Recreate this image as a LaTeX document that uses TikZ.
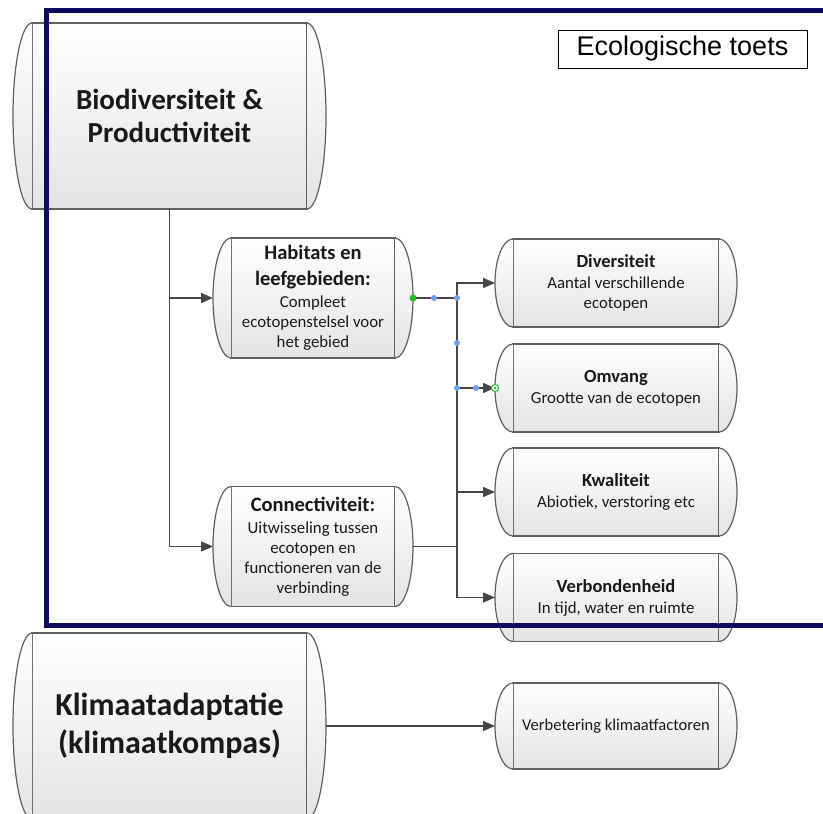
\documentclass[tikz,border=0pt]{standalone}
\usepackage{fontspec}
\setmainfont{Carlito}
\newfontfamily\arialfont{Liberation Sans}
\usetikzlibrary{arrows.meta,positioning,calc}
\definecolor{framenavy}{RGB}{12,12,96}
\definecolor{boxline}{RGB}{95,95,95}
\definecolor{boxbot}{RGB}{228,228,228}
\definecolor{connline}{RGB}{70,70,70}
\definecolor{handleblue}{RGB}{110,160,240}
\definecolor{handlegreen}{RGB}{30,190,30}
\newcommand\kopgroot[1]{{\fontsize{20.5}{26}\selectfont\bfseries #1}}
\newcommand\kopklein[1]{{\fontsize{18.5}{21}\selectfont\bfseries #1}}
\tikzset{
  procbox/.style={draw=boxline, line width=1.2pt, top color=white, bottom color=boxbot,
    align=center, inner sep=0pt, outer ysep=0pt, text=black!90},
  mainbox/.style={procbox, minimum width=275pt, minimum height=186pt, outer xsep=19pt,
    font=\fontsize{29}{33}\selectfont\bfseries},
  midbox/.style={procbox, minimum width=164pt, minimum height=120pt, outer xsep=18pt,
    font=\fontsize{16.8}{20}\selectfont},
  sidebox/.style={procbox, minimum width=206pt, minimum height=88pt, outer xsep=18pt,
    font=\fontsize{16.8}{20}\selectfont},
  conn/.style={draw=connline, line width=1.5pt, -{Triangle[length=12pt,width=10pt]}},
  bus/.style={draw=connline, line width=1.5pt},
  handle/.style={fill=handleblue, draw=none},
}
\begin{document}
\begin{tikzpicture}[x=1pt,y=1pt]
\useasboundingbox (0,0) rectangle (823,-814);

% hoofdvakken
\node[mainbox] (bio) at (169.5,-116) {Biodiversiteit \&\\Productiviteit};
\node[mainbox, font=\fontsize{32}{38}\selectfont\bfseries] (kli) at (169.5,-726)
  {Klimaatadaptatie\\(klimaatkompas)};

% tussenvakken
\node[midbox] (hab) at (313,-298)
  {\kopgroot{Habitats en}\\[6pt]\kopgroot{leefgebieden:}\\[2pt]Compleet\\ecotopenstelsel voor\\het gebied};
\node[midbox] (con) at (313,-546.5)
  {\kopgroot{Connectiviteit:}\\[2pt]Uitwisseling tussen\\ecotopen en\\functioneren van de\\verbinding};

% criteria
\node[sidebox] (div) at (616,-283) {\kopklein{Diversiteit}\\[1pt]Aantal verschillende\\ecotopen};
\node[sidebox] (omv) at (616,-388) {\kopklein{Omvang}\\[1pt]Grootte van de ecotopen};
\node[sidebox] (kwa) at (616,-492) {\kopklein{Kwaliteit}\\[1pt]Abiotiek, verstoring etc};
\node[sidebox] (ver) at (616,-597.5) {\kopklein{Verbondenheid}\\[1pt]In tijd, water en ruimte};
\node[sidebox, minimum height=86pt, font=\fontsize{16.5}{20}\selectfont] (verb) at (616,-726)
  {Verbetering klimaatfactoren};

% gebogen zijkanten
\foreach \b/\s in {bio/19,kli/19,hab/18,con/18,div/18,omv/18,kwa/18,ver/18,verb/18}
{
  \draw[draw=boxline, line width=1.2pt, top color=white, bottom color=boxbot]
    let \p1=(\b.north west), \p2=(\b.south east), \n1={0.5*(\y1-\y2)} in
    ([xshift=\s pt]\b.north west) arc[start angle=90, end angle=270, x radius=\s pt, y radius=\n1]
    ([xshift=-\s pt]\b.south east) arc[start angle=-90, end angle=90, x radius=\s pt, y radius=\n1];
}

% verbindingen
\draw[conn] (bio.south) |- (hab.west);
\draw[conn] (bio.south) |- (con.west);
\coordinate (jhab) at ([xshift=44pt]hab.east);
\coordinate (jcon) at ([xshift=44pt]con.east);
\draw[bus] (hab.east) -- (jhab);
\draw[bus] (con.east) -- (jcon);
\foreach \t in {div,omv,kwa,ver}
{
  \draw[conn] (jhab) |- (\t.west);
}
\draw[conn] (kli.east) -- (verb.west);

% selectiepunten
\fill[handlegreen] (hab.east) circle (3.5);
\foreach \x/\y in {434/-298, 457/-298, 457/-343, 457/-388, 476/-388}
{
  \fill[handle] (\x,\y) circle (3);
}
\draw[handlegreen, fill=white, line width=1pt] (omv.west) circle (3.6);
\fill[handlegreen] (omv.west) circle (1.4);

% kader ecologische toets
\draw[framenavy, line width=5pt] (46.5,-10) rectangle (870,-625);
\node[draw=black, line width=0.8pt, fill=white, minimum width=249pt, minimum height=38pt,
  font=\arialfont\fontsize{27}{30}\selectfont] (eco) at (682.5,-49) {Ecologische toets};
\end{tikzpicture}
\end{document}
